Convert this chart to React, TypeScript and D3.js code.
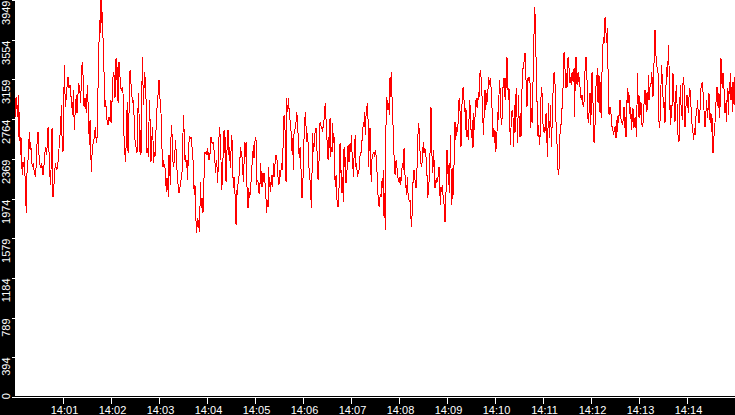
import React from "react";
import * as d3 from "d3";

// time in seconds after 14:00:00, value
const seg1: [number, number][] = [
[0,2786],[1.3,2984],[3.3,2786],[4.2,3004],[4.6,2586],[5.4,2836],[6.7,2406],[7.5,2586],[8.3,2338],[9.2,2208],[10,2338],[11.3,2288],[12.1,2388],[12.9,2029],[14.2,1830],[15,2228],[15.8,2278],[16.7,2426],[17.9,2636],[18.8,2456],[19.6,2536],[20.8,2358],[21.7,2288],[22.9,2328],[24.2,2228],[25.8,2188],[26.7,2358],[27.9,2586],[28.8,2636],[30,2406],[31.3,2308],[32.5,2278],[33.3,2328],[35,2208],[36.7,2338],[37.9,2486],[39.6,2406],[41.3,2686],[42.9,2358],[44.2,2108],[45,2258],[46.3,2676],[47.5,1990],[49.2,2158],[50.4,2328],[52.1,2258],[53.3,2288],[54.6,2426],[55.8,2556],[57.1,2686],[57.9,2904],[58.8,2586],[60,2436],[60.8,2854],[61.7,3302],[62.9,2884],[64.2,2984],[65.4,3124],[66.3,3184],[67.5,3074],[68.8,3104],[70.4,2954],[72.1,2804],[72.9,3054],[74.2,2656],[75.4,2874],[76.7,3004],[77.5,2824],[78.3,2954],[79.6,3124],[80.8,3074],[82.1,2924],[83.3,3282],[84.6,3332],[85.4,3084],[86.3,2884],[87.5,2974],[89.2,2824],[90.4,3104],[91.7,2854],[92.9,2506],[93.8,2756],[95.4,2238],[96.7,2486],[97.9,2536],[99.2,2586],[100.4,2686],[101.7,2526],[102.9,2606],[104.2,3302],[105.8,3750],[106.7,3620],[107.5,3949],[108.3,3720],[109.6,3830],[110.4,3332],[111.7,3182],[112.5,2884],[113.3,2954],[115,2756],[116.3,2706],[117.5,2786],[119.2,2736],[120,2954],[120.8,2726],[121.7,3124],[123.3,3232],[124.2,3174],[125,2974],[126.3,3372],[127.5,3154],[128.3,3282]
];
const seg2: [number, number][] = [
[128.8,2924],[129.2,3134],[130,3332],[131.3,3182],[132.1,3074],[133.3,3054],[134.2,3084],[135,3024],[135.8,2726],[136.7,2476],[137.5,2406],[137.9,2338],[138.8,2486],[139.6,2756],[140.4,2934],[141.3,2426],[142.1,2676],[142.9,2954],[143.8,3252],[144.6,3182],[145.4,3054],[146.3,2984],[147.1,2924],[148.3,2954],[149.2,2676],[150.4,2506],[151.7,2476],[152.5,2426],[153.3,2726],[154.2,3024],[155,2824],[155.8,2436],[156.7,2656],[157.5,2406],[158.3,2884],[159.2,3382],[160,3104],[160.8,2904],[161.7,3232],[162.5,3184],[163.3,3124],[164.2,2824],[165,2426],[165.8,2476],[166.7,2388],[167.5,2736],[168.3,2954],[169.2,2586],[170,2338],[170.8,2486],[171.7,2686],[172.5,2556],[173.3,2328],[174.2,2436],[175,2388],[175.8,2606],[176.7,2706],[177.5,2874],[178.3,2954],[179.2,3054],[180,3154],[180.8,3054],[181.7,2874],[182.5,2824],[183.3,2506],[184.2,2426],[185,2288],[185.8,2358],[186.7,2288],[187.5,2278],[188.3,2158],[189.2,2038],[190,2178],[190.8,2138],[191.7,1990],[192.5,2406],[193.3,2288],[194.2,2108],[195,2586],[195.8,2706],[196.7,2526],[197.5,2338],[198.3,2288],[199.2,2358],[200,2456],[200.8,2556],[201.7,2378],[202.5,2258],[203.3,2158],[204.2,2078],[205,2028],[205.8,2058],[206.7,2108],[207.5,2158],[208.3,2178],[209.2,2288],[210,2626],[210.8,2806],[211.7,2536],[212.5,2358],[213.3,2406],[214.2,2278],[215,2358],[215.8,2158],[216.7,2436],[217.5,2536],[218.3,2586],[219.2,2576],[220,2586],[220.8,2556],[221.7,2426],[222.5,2358],[223.3,2138],[224.2,2008],[225,2108],[225.8,1880],[226.7,1630],[227.5,1690],[228.3,1780],[229.2,1680],[230,1760],[230.8,1640],[231.7,2138],[232.5,1980],[233.3,1880],[234.2,1980],[235,1830],[235.8,2028],[236.7,2328],[237.5,2436],[238.3,2426],[239.2,2436],[240,2406],[240.8,2476],[241.7,2406],[242.5,2358],[243.3,2406],[244.2,2436],[245,2586],[245.8,2536],[246.7,2526],[247.5,2536],[248.3,2486],[249.2,2436],[250,2328],[250.8,2228],[251.7,2358],[252.5,2288],[253.3,2128],[254.2,2328],[255,2586],[255.8,2686],[256.7,2556]
];
const seg3: [number, number][] = [
[257.5,2358],[257.9,2058],[258.8,2108],[259.6,2238],[260.4,2506],[261.3,2656],[262.1,2426],[262.9,2586],[263.8,2138],[264.6,2328],[265.4,2586],[266.3,2656],[267.1,2406],[267.9,2486],[268.8,2338],[269.6,2278],[270.4,2606],[271.3,2556],[272.1,2288],[272.9,2078],[273.8,2188],[274.6,2138],[275.4,1910],[276.3,1710],[277.1,2058],[277.9,2008],[278.8,2128],[279.6,2128],[280.4,2258],[281.3,2388],[282.1,2486],[282.9,2406],[283.8,2388],[284.6,2278],[285.4,2138],[286.3,2328],[287.1,2536],[287.9,2388],[288.8,2536],[289.6,2258],[290.4,1930],[291.3,1880],[292.1,2078],[292.9,1980],[293.8,2038],[294.6,2008],[295.4,2258],[296.3,2308],[297.1,2378],[297.9,2506],[298.8,2378],[299.6,2506],[300.4,2586],[301.3,2556],[302.1,2108],[302.9,2158],[303.8,2138],[304.6,2038],[305.4,2028],[306.3,2128],[307.1,2328],[307.9,2178],[308.8,2088],[309.6,2228],[310.4,2138],[311.3,2228],[312.1,2158],[312.9,2108],[313.8,1960],[314.6,1830],[315.4,1960],[316.3,1890],[317.1,2288],[317.9,2088],[318.8,2138],[319.6,2038],[320.4,2178],[321.3,2208],[322.1,2088],[322.9,2328],[323.8,2188],[324.6,2278],[325.4,2358],[326.3,2406],[327.1,2388],[327.9,2328],[328.8,2188],[329.6,2108],[330.4,2138],[331.3,2258],[332.1,2188],[332.9,2328],[333.8,2258],[334.6,2308],[335.4,2636],[336.3,2804],[337.1,2736],[337.9,2576],[338.8,2138],[339.6,2974],[340.4,2834],[341.3,2904],[342.1,2974],[342.9,2776],[343.8,2756],[344.6,2676],[345.4,2626],[346.3,2436],[347.1,2576],[347.9,2258],[348.8,2626],[349.6,2656],[350.4,2676],[351.3,2736],[352.1,2834],[352.9,2776],[353.8,2626],[354.6,2456],[355.4,2378],[356.3,2486],[357.1,2328],[357.9,2208],[358.8,1980],[359.6,1990],[360.4,2358],[361.3,2576],[362.1,2736],[362.9,2834],[363.8,2686],[364.6,2536],[365.4,2626],[366.3,2536],[367.1,2338],[367.9,2228],[368.8,2158],[369.6,2058],[370.4,1880],[371.3,2238],[372.1,2626],[372.9,2436],[373.8,2486],[374.6,2586],[375.4,2656],[376.3,2676],[377.1,2576],[377.9,2338],[378.8,2158],[379.6,2188],[380.4,2486],[381.3,2736],[382.1,2726],[382.9,2676],[383.8,2686],[384.6,2636],[385.4,2706]
];
const seg4: [number, number][] = [
[386.3,2756],[387.1,2854],[387.9,2924],[388.8,2756],[389.6,2606],[390.4,2506],[391.3,2358],[392.1,2586],[392.9,2476],[393.8,2776],[394.6,2388],[395.4,2486],[396.3,2436],[397.1,2726],[397.9,2526],[398.8,2586],[399.6,2228],[400.4,2088],[401.3,2208],[402.1,1980],[402.9,1940],[403.8,1890],[404.6,1940],[405.4,2208],[406.3,2526],[407.1,2228],[407.9,2258],[408.8,2028],[409.6,2188],[410.4,1940],[411.3,2486],[412.1,2288],[412.9,2388],[413.8,2128],[414.6,2228],[415.4,2278],[416.3,2506],[417.1,2338],[417.9,2338],[418.8,2526],[419.6,2436],[420.4,2606],[421.3,2426],[422.1,2358],[422.9,2188],[423.8,2388],[424.6,2526],[425.4,2606],[426.3,2278],[427.1,2328],[427.9,2188],[428.8,2238],[429.6,2228],[430.4,2278],[431.3,2406],[432.1,2406],[432.9,2456],[433.8,2556],[434.6,2626],[435.4,2736],[436.3,2686],[437.1,2834],[437.9,2606],[438.8,2804],[439.6,2854],[440.4,2924],[441.3,2756],[442.1,2288],[442.9,2586],[443.8,2676],[444.6,2288],[445.4,2138],[446.3,2378],[447.1,2406],[447.9,2426],[448.8,2436],[449.6,2388],[450.4,2456],[451.3,2406],[452.1,2328],[452.9,2158],[453.8,2008],[454.6,1910],[455.4,1890],[456.3,1990],[457.1,2008],[457.9,1990],[458.8,2158],[459.6,2078],[460.4,2258],[461.3,1780],[462.1,2028],[462.9,1660],[463.8,2736],[464.6,2984],[465.4,2934],[466.3,2854],[467.1,2924],[467.9,2804],[468.8,3184],[469.6,2984],[470.4,3232],[471.3,2974],[472.1,2924],[472.9,2506],[473.8,2406],[474.6,2238],[475.4,2208],[476.3,2358],[477.1,2328],[477.9,2238],[478.8,2178],[479.6,2158],[480.4,2128],[481.3,2188],[482.1,2108],[482.9,2188],[483.8,2278],[484.6,2328],[485.4,2258],[486.3,2476],[487.1,2288],[487.9,2128],[488.8,2078],[489.6,2008],[490.4,2188],[491.3,2028],[492.1,1980],[492.9,1940],[493.8,1960],[494.6,1860],[495.4,1690],[496.3,1810],[497.1,2028],[497.9,2228],[498.8,2258],[499.6,2188],[500.4,2128],[501.3,2078],[502.1,2228],[502.9,2328],[503.8,2626],[504.6,2726],[505.4,2636],[506.3,2436],[507.1,2358],[507.9,2288],[508.8,2328],[509.6,2426],[510.4,2536],[511.3,2426],[512.1,2476],[512.9,2456],[513.8,2388],[514.6,2208]
];
const seg5: [number, number][] = [
[515,2208],[515.8,1980],[516.7,2028],[517.5,2138],[518.3,2258],[519.2,2586],[520,2884],[520.8,2586],[521.7,2228],[522.5,2288],[523.3,2456],[524.2,2258],[525,2078],[525.8,2158],[526.7,2128],[527.5,2178],[528.3,2138],[529.2,2228],[530,2288],[530.8,2088],[531.7,1910],[532.5,2088],[533.3,2038],[534.2,2108],[535,2008],[535.8,1990],[536.7,1860],[537.5,1740],[538.3,1860],[539.2,2208],[540,2456],[540.8,2328],[541.7,2108],[542.5,2308],[543.3,2028],[544.2,2606],[545,2278],[545.8,1910],[546.7,2028],[547.5,2278],[548.3,2008],[549.2,2576],[550,2736],[550.8,2556],[551.7,2626],[552.5,2686],[553.3,2636],[554.2,2784],[555,2954],[555.8,2974],[556.7,2736],[557.5,2486],[558.3,2736],[559.2,3074],[560,2974],[560.8,3084],[561.7,2834],[562.5,2884],[563.3,2656],[564.2,2854],[565,2586],[565.8,2656],[566.7,2556],[567.5,2756],[568.3,2954],[569.2,2854],[570,2656],[570.8,2576],[571.7,2756],[572.5,2476],[573.3,2824],[574.2,2656],[575,2776],[575.8,2954],[576.7,2884],[577.5,2974],[578.3,2874],[579.2,3034],[580,2974],[580.8,3182],[581.7,3252],[582.5,3182],[583.3,3034],[584.2,2954],[585,2726],[585.8,2606],[586.7,2934],[587.5,3054],[588.3,2854],[589.2,2954],[590,3024],[590.8,2934],[591.7,3182],[592.5,3104],[593.3,3124],[594.2,3174],[595,3084],[595.8,3004],[596.7,2756],[597.5,2586],[598.3,2676],[599.2,2526],[600,2656],[600.8,2436],[601.7,2486],[602.5,2636],[603.3,2834],[604.2,2756],[605,3004],[605.8,3154],[606.7,3004],[607.5,2776],[608.3,2706],[609.2,2824],[610,3084],[610.8,3174],[611.7,2984],[612.5,3174],[613.3,2954],[614.2,3182],[615,3382],[615.8,3154],[616.7,2954],[617.5,3074],[618.3,2776],[619.2,2506],[620,2676],[620.8,2824],[621.7,2854],[622.5,2784],[623.3,2486],[624.2,2904],[625,2626],[625.8,2954],[626.7,3074],[627.5,2784],[628.3,2526],[629.2,3004],[630,2804],[630.8,2586],[631.7,2824],[632.5,2586],[633.3,2984],[634.2,3134],[635,3272],[635.8,3272],[636.7,3382],[637.5,3422],[638.3,3302],[639.2,3024],[640,2884],[640.8,3174],[641.7,3154],[642.5,3182],[643.3,3134]
];
const seg6: [number, number][] = [
[643.8,3124],[644.6,2676],[645.4,2874],[646.3,2726],[647.1,2974],[647.9,3272],[648.8,3620],[649.6,3880],[650.4,3750],[651.3,3372],[652.1,3054],[652.9,2834],[653.8,2586],[654.6,2706],[655.4,2506],[656.3,2586],[657.1,2874],[657.9,3084],[658.8,3024],[659.6,2804],[660.4,2636],[661.3,2686],[662.1,2626],[662.9,2656],[663.8,2824],[664.6,2686],[665.4,2388],[666.3,2686],[667.1,2924],[667.9,2576],[668.8,2736],[669.6,2904],[670.4,2486],[671.3,2686],[672.1,2974],[672.9,3074],[673.8,3232],[674.6,3152],[675.4,3074],[676.3,2726],[677.1,2706],[677.9,2338],[678.8,2258],[679.6,2208],[680.4,2328],[681.3,2626],[682.1,2626],[682.9,2784],[683.8,2874],[684.6,2954],[685.4,3182],[686.3,3432],[687.1,3352],[687.9,3174],[688.8,3074],[689.6,3222],[690.4,3084],[691.3,3382],[692.1,3322],[692.9,3232],[693.8,3124],[694.6,3182],[695.4,3104],[696.3,3232],[697.1,3152],[697.9,3134],[698.8,3272],[699.6,2784],[700.4,3272],[701.3,3382],[702.1,3134],[702.9,3104],[703.8,3232],[704.6,3134],[705.4,3182],[706.3,3084],[707.1,3004],[707.9,2954],[708.8,3004],[709.6,2924],[710.4,2884],[711.3,2934],[712.1,3124],[712.9,3352],[713.8,3382],[714.6,3232],[715.4,3084],[716.3,2756],[717.1,2726],[717.9,2904],[718.8,3024],[719.6,2706],[720.4,2904],[721.3,3232],[722.1,3024],[722.9,2834],[723.8,2526],[724.6,2606],[725.4,2804],[726.3,3104],[727.1,3124],[727.9,3272],[728.8,2924],[729.6,3202],[730.4,3182],[731.3,2824],[732.1,3134],[732.9,2776],[733.8,3252],[734.6,3422],[735.4,3580],[736.3,3520],[737.1,3750],[737.9,3780],[738.8,3620],[739.6,3520],[740.4,3670],[741.3,3252],[742.1,2824],[742.9,2804],[743.8,2884],[744.6,2854],[745.4,2776],[746.3,2686],[747.1,2686],[747.9,2606],[748.8,2636],[749.6,2676],[750.4,2686],[751.3,2576],[752.1,2756],[752.9,2636],[753.8,2804],[754.6,2726],[755.4,2854],[756.3,2954],[757.1,2804],[757.9,2736],[758.8,2726],[759.6,2706],[760.4,2784],[761.3,2884],[762.1,2676],[762.9,2784],[763.8,2586],[764.6,2824],[765.4,3074],[766.3,2924],[767.1,3034],[767.9,2984],[768.8,2804],[769.6,2884],[770.4,2656],[771.3,2824],[772.1,2736]
];
const seg7: [number, number][] = [
[772.5,2874],[773.3,2676],[774.2,2776],[775,2686],[775.8,2784],[776.7,2586],[777.5,2904],[778.3,3222],[779.2,2784],[780,3004],[780.8,2776],[781.7,2834],[782.5,2934],[783.3,2736],[784.2,2686],[785,2726],[785.8,2834],[786.7,2984],[787.5,3054],[788.3,2984],[789.2,2834],[790,3024],[790.8,2854],[791.7,3202],[792.5,2954],[793.3,3034],[794.2,3124],[795,3104],[795.8,3232],[796.7,3134],[797.5,2984],[798.3,3154],[799.2,3482],[800,3650],[800.8,3482],[801.7,3302],[802.5,3282],[803.3,3272],[804.2,3174],[805,2736],[805.8,2676],[806.7,2804],[807.5,3104],[808.3,3302],[809.2,3124],[810,2984],[810.8,2874],[811.7,2934],[812.5,2726],[813.3,2984],[814.2,3222],[815,3282],[815.8,3182],[816.7,3502],[817.5,3302],[818.3,3024],[819.2,2706],[820,2904],[820.8,2776],[821.7,3004],[822.5,3222],[823.3,2984],[824.2,2884],[825,2736],[825.8,2984],[826.7,3104],[827.5,2924],[828.3,2656],[829.2,2556],[830,2536],[830.8,2854],[831.7,3104],[832.5,2904],[833.3,2834],[834.2,2756],[835,3124],[835.8,3182],[836.7,3024],[837.5,2686],[838.3,2776],[839.2,3004],[840,3004],[840.8,2924],[841.7,2824],[842.5,2984],[843.3,3074],[844.2,3034],[845,2884],[845.8,2726],[846.7,2706],[847.5,2626],[848.3,2556],[849.2,2676],[850,2606],[850.8,2726],[851.7,2854],[852.5,2874],[853.3,2954],[854.2,2784],[855,2726],[855.8,2776],[856.7,2924],[857.5,3074],[858.3,3104],[859.2,3134],[860,3034],[860.8,2924],[861.7,2784],[862.5,2686],[863.3,2726],[864.2,2954],[865,2874],[865.8,2776],[866.7,2924],[867.5,3024],[868.3,2784],[869.2,2726],[870,2824],[870.8,2636],[871.7,2776],[872.5,2426],[873.3,2556],[874.2,2626],[875,2726],[875.8,2884],[876.7,2984],[877.5,3084],[878.3,2924],[879.2,2874],[880,3024],[880.8,2776],[881.7,2974],[882.5,3372],[883.3,3152],[884.2,3074],[885,3222],[885.8,3152],[886.7,2984],[887.5,2824],[888.3,2924],[889.2,2736],[890,2954],[890.8,3074],[891.7,2804],[892.5,3034],[893.3,3024],[894.2,3222],[895,2954],[895.8,3084],[896.7,2834],[897.5,3134],[898.3,2934],[899.2,2904],[900,3182]
];

const yTickValues = [0, 394.9, 789.8, 1184.7, 1579.6, 1974.5, 2369.4, 2764.3, 3159.2, 3554.1, 3949];
const yTickLabels = ["0", "394", "789", "1184", "1579", "1974", "2369", "2764", "3159", "3554", "3949"];
const xTickSeconds = [60, 120, 180, 240, 300, 360, 420, 480, 540, 600, 660, 720, 780, 840];
const xTickLabels = ["14:01", "14:02", "14:03", "14:04", "14:05", "14:06", "14:07", "14:08", "14:09", "14:10", "14:11", "14:12", "14:13", "14:14"];

const W = 735;
const H = 415;
const LEFT = 15;
const BOTTOM = 397;

export default function App() {
  const data = [...seg1, ...seg2, ...seg3, ...seg4, ...seg5, ...seg6, ...seg7];
  const x = d3.scaleLinear().domain([0, 900]).range([LEFT, W]);
  const y = d3.scaleLinear().domain([0, 3949]).range([BOTTOM, 0]);
  const line = d3
    .line<[number, number]>()
    .x((d) => x(d[0]))
    .y((d) => y(d[1]));
  const font = "'Liberation Sans', Arial, sans-serif";
  return (
    <svg
      width={W}
      height={H}
      style={{ position: "absolute", left: 0, top: 0, display: "block" }}
    >
      <rect x={0} y={0} width={W} height={H} fill="#000" />
      <rect x={LEFT} y={0} width={W - LEFT} height={BOTTOM - 1} fill="#fff" />
      <path
        d={line(data) || ""}
        fill="none"
        stroke="#ff0000"
        strokeWidth={1}
        shapeRendering="crispEdges"
      />
      <line x1={12} x2={W} y1={BOTTOM + 0.5} y2={BOTTOM + 0.5} stroke="#fff" strokeWidth={1} shapeRendering="crispEdges" />
      {yTickValues.map((v, i) => {
        const ty = Math.round(y(v)) + 0.5;
        const ly = Math.min(ty, 393);
        return (
          <g key={"y" + i}>
            <line x1={12} x2={LEFT} y1={ty} y2={ty} stroke="#fff" strokeWidth={1} shapeRendering="crispEdges" />
            <text
              transform={`translate(10,${ly}) rotate(-90)`}
              textAnchor="end"
              fill="#fff"
              fontFamily={font}
              fontSize={11}
            >
              {yTickLabels[i]}
            </text>
          </g>
        );
      })}
      {xTickSeconds.map((s, i) => {
        const tx = Math.round(x(s)) + 0.5;
        return (
          <g key={"x" + i}>
            <line x1={tx} x2={tx} y1={BOTTOM + 1} y2={BOTTOM + 7} stroke="#fff" strokeWidth={1} shapeRendering="crispEdges" />
            <text x={tx + 1} y={414} textAnchor="middle" fill="#fff" fontFamily={font} fontSize={11}>
              {xTickLabels[i]}
            </text>
          </g>
        );
      })}
    </svg>
  );
}
